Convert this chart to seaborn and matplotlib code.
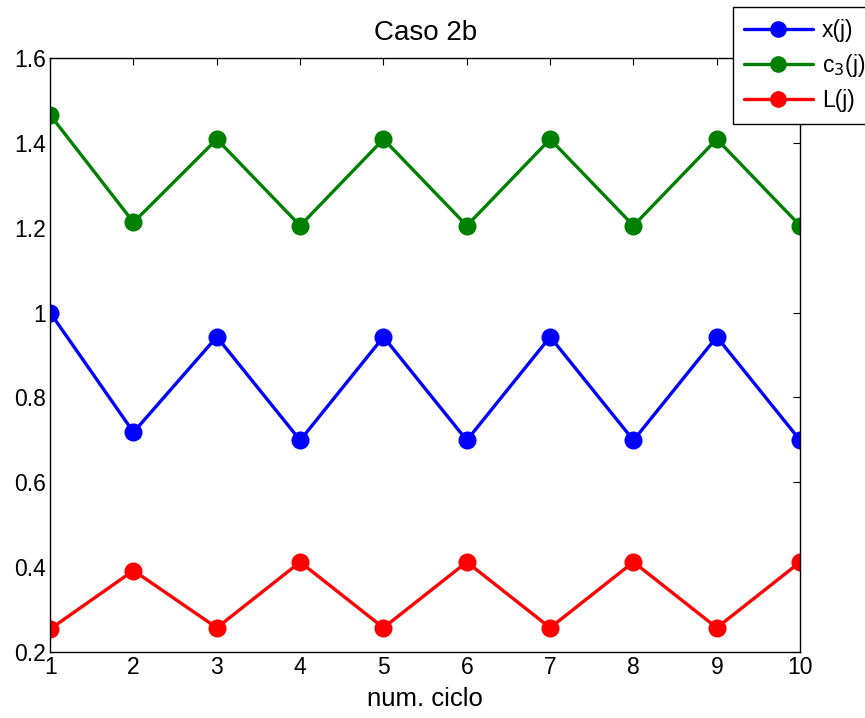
import matplotlib
matplotlib.use('Agg')
import matplotlib.pyplot as plt
import pandas as pd
import seaborn as sns

# values
ciclo = [1, 2, 3, 4, 5, 6, 7, 8, 9, 10]
x_j = [1.000, 0.718, 0.943, 0.699, 0.943, 0.699, 0.943, 0.699, 0.943, 0.699]
c3_j = [1.466, 1.213, 1.409, 1.205, 1.409, 1.205, 1.409, 1.205, 1.409, 1.205]
L_j = [0.254, 0.392, 0.257, 0.412, 0.257, 0.412, 0.257, 0.412, 0.257, 0.412]
labels = ['x(j)', 'c$_3$(j)', 'L(j)']
colors = ['#0000ff', '#008000', '#ff0000']

df = pd.DataFrame({
    'ciclo': ciclo * 3,
    'valor': x_j + c3_j + L_j,
    'serie': [labels[0]] * 10 + [labels[1]] * 10 + [labels[2]] * 10,
})

sns.set_style('white')
plt.rcParams['font.family'] = ['Liberation Sans', 'DejaVu Sans']
plt.rcParams['text.color'] = 'black'
plt.rcParams['axes.labelcolor'] = 'black'

fig = plt.figure(figsize=(8.65, 7.18), dpi=100)
ax = fig.add_axes([0.058, 0.092, 0.867, 0.827])

sns.lineplot(data=df, x='ciclo', y='valor', hue='serie', palette=colors,
             marker='o', markersize=13, markeredgewidth=0, linewidth=2.4,
             ax=ax, legend=False)

ax.set_xlim(1, 10)
ax.set_ylim(0.2, 1.6)
ax.set_xticks(ciclo)
ax.set_yticks([0.2, 0.4, 0.6, 0.8, 1, 1.2, 1.4, 1.6])
ax.set_yticklabels(['0.2', '0.4', '0.6', '0.8', '1', '1.2', '1.4', '1.6'])
ax.tick_params(direction='in', length=5, width=0.8, labelsize=16.5,
               top=True, right=True, pad=3, colors='black')
for s in ax.spines.values():
    s.set_visible(True)
    s.set_color('black')
    s.set_linewidth(1)

ax.set_title('Caso 2b', fontsize=20, pad=13, color='black')
ax.set_xlabel('num. ciclo', fontsize=18.5, labelpad=6, color='black')
ax.set_ylabel('')

handles = [plt.Line2D([], [], color=c, marker='o', markersize=12,
                      markeredgewidth=0, linewidth=2.4) for c in colors]
leg = fig.legend(handles, labels, loc='upper left',
                 bbox_to_anchor=(0.847, 0.990), fontsize=16.5,
                 frameon=True, fancybox=False, edgecolor='black',
                 framealpha=1, handlelength=3.0, borderpad=0.5,
                 labelspacing=0.45, handletextpad=0.4, borderaxespad=0)
leg.get_frame().set_linewidth(1)

fig.savefig('out.png', dpi=100)
